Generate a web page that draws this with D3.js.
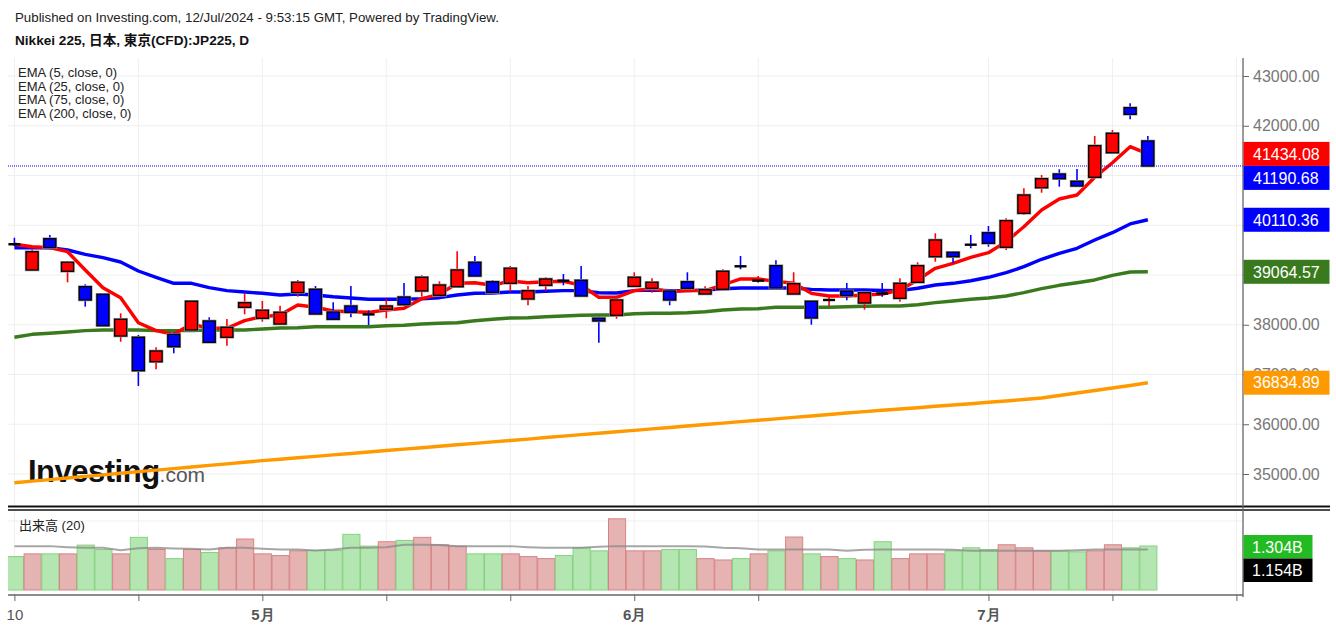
<!DOCTYPE html>
<html><head><meta charset="utf-8">
<script src="https://cdn.jsdelivr.net/npm/d3@7"></script>
<style>
html,body{margin:0;padding:0;background:#fff;}
svg{display:block;font-family:Arial,"Liberation Sans","Noto Sans CJK JP",sans-serif;}
</style></head>
<body>
<svg id="chart" width="1336" height="629"></svg>
<script>
// ---------- DATA ----------
const dates = ["Apr 10","Apr 11","Apr 12","Apr 15","Apr 16","Apr 17","Apr 18","Apr 19","Apr 22","Apr 23","Apr 24","Apr 25","Apr 26","Apr 30",
"May 1","May 2","May 7","May 8","May 9","May 10","May 13","May 14","May 15","May 16","May 17","May 20","May 21","May 22","May 23","May 24","May 27","May 28","May 29","May 30","May 31",
"Jun 3","Jun 4","Jun 5","Jun 6","Jun 7","Jun 10","Jun 11","Jun 12","Jun 13","Jun 14","Jun 17","Jun 18","Jun 19","Jun 20","Jun 21","Jun 24","Jun 25","Jun 26","Jun 27","Jun 28",
"Jul 1","Jul 2","Jul 3","Jul 4","Jul 5","Jul 8","Jul 9","Jul 10","Jul 11","Jul 12"];
const open  = [39623,39101,39730,39075,38765,38612,37774,37748,37257,37808,37895,38076,37748,38351,38130,38015,38644,38713,38256,38377,38210,38311,38558,38679,38592,38765,39255,38865,38833,38518,38793,38888,38894,38130,38190,38773,38733,38679,38865,38618,38713,39177,38884,39187,38618,38472,38496,38679,38437,38630,38532,38853,39368,39456,39611,39850,39557,40240,40755,41030,40884,40964,41458,42363,41694];
const high  = [39750,39517,39804,39268,38813,38632,38230,37794,37547,37848,38472,38150,38116,38632,38478,38383,38900,38779,38451,38779,38291,38512,38839,38994,38873,39477,39382,38900,39181,38779,38954,39020,39181,38162,38498,39054,38934,38699,39054,38773,39115,39382,38980,39296,39054,38472,38552,38839,38644,38839,38934,39255,39838,39483,39804,39985,40140,40743,41010,41125,41131,41794,41915,42451,41794];
const low   = [39583,39101,39523,38853,38363,37981,37659,36769,37105,37426,37895,37647,37579,38210,38061,38015,38564,38216,38096,38150,37995,38130,38377,38564,38592,38765,38980,38652,38664,38391,38685,38793,38578,37639,38122,38773,38644,38391,38733,38618,38713,39115,38845,38739,38618,38001,38377,38492,38303,38564,38464,38853,39268,39235,39537,39569,39503,40206,40654,40775,40789,40964,41458,42130,41191];
const close = [39613,39468,39549,39255,38498,37981,38110,37077,37473,37559,38472,37647,37949,38443,38291,38250,38853,38216,38110,38250,38206,38377,38403,38954,38799,39101,38980,38652,39135,38685,38920,38884,38578,38076,38498,38954,38853,38498,38733,38705,39075,39173,38888,38739,38825,38136,38500,38584,38644,38626,38833,39187,39704,39368,39607,39637,40092,40608,40936,40936,40789,41599,41848,42230,41190.68];

const ema5   = [39617,39569,39549,39468,39101,38745,38544,38041,37881,37808,38015,37929,37929,38082,38162,38196,38397,38351,38276,38262,38250,38297,38331,38524,38612,38833,38845,38793,38879,38845,38865,38873,38799,38552,38552,38685,38725,38664,38685,38685,38799,38920,38920,38873,38833,38632,38578,38578,38598,38618,38699,38900,39135,39235,39356,39448,39670,39971,40307,40528,40608,40964,41257,41579,41434.08];
const ema25  = [39549,39549,39549,39503,39416,39348,39261,39080,38954,38833,38833,38745,38685,38658,38632,38598,38618,38598,38564,38538,38512,38512,38512,38524,38544,38598,38632,38638,38658,38658,38672,38685,38685,38644,38638,38685,38699,38685,38685,38699,38725,38739,38739,38739,38739,38712,38699,38699,38699,38689,38685,38733,38799,38833,38885,38954,39046,39167,39316,39436,39537,39704,39851,40026,40110.36];
const ema75  = [37748,37808,37828,37854,37881,37895,37895,37895,37881,37881,37881,37895,37895,37895,37915,37935,37941,37961,37961,37961,37961,37981,37989,38015,38029,38041,38081,38110,38136,38142,38162,38176,38190,38196,38196,38222,38230,38230,38242,38262,38297,38317,38323,38351,38351,38351,38351,38363,38371,38377,38377,38403,38444,38478,38512,38538,38578,38645,38725,38793,38845,38900,38994,39060,39064.57];
const ema200 = [34825,34857,34888,34920,34952,34982,35014,35047,35079,35109,35141,35173,35204,35236,35268,35296,35326,35354,35384,35413,35443,35471,35499,35529,35558,35588,35616,35646,35674,35702,35733,35761,35791,35819,35849,35877,35906,35936,35964,35994,36022,36052,36080,36108,36139,36167,36197,36227,36253,36281,36307,36333,36361,36387,36413,36442,36468,36498,36528,36578,36628,36679,36729,36779,36834.89];

const volume = [0.99,1.07,1.07,1.07,1.33,1.20,1.07,1.56,1.20,0.93,1.20,1.11,1.25,1.51,1.07,1.02,1.16,1.17,1.17,1.65,1.30,1.43,1.47,1.56,1.34,1.30,1.07,1.07,1.07,0.99,0.93,1.02,1.25,1.16,2.11,1.16,1.16,1.20,1.20,0.93,0.89,0.93,1.07,1.16,1.57,1.07,0.99,0.93,0.89,1.43,0.93,1.07,1.07,1.16,1.25,1.20,1.34,1.25,1.16,1.16,1.13,1.16,1.34,1.25,1.304];
const volumeSide = [1,0,1,0,1,1,0,1,0,1, 0,1,0,0,0,0,0,1,1,1, 1,0,1,0,0,0,1,1,0,0, 0,1,1,1,0,0,0,1,1,0, 0,1,0,1,0,1,0,1,0,1, 0,0,0,1,1,1,0,0,0,1, 1,0,0,1,1];
const volumeMA = [1.30,1.30,1.30,1.27,1.25,1.25,1.18,1.24,1.25,1.23,1.22,1.20,1.25,1.25,1.22,1.20,1.20,1.17,1.20,1.25,1.25,1.27,1.34,1.34,1.33,1.30,1.30,1.30,1.30,1.27,1.25,1.25,1.25,1.28,1.30,1.30,1.30,1.30,1.30,1.29,1.25,1.24,1.20,1.20,1.20,1.20,1.20,1.16,1.19,1.20,1.20,1.20,1.20,1.19,1.16,1.16,1.16,1.16,1.16,1.16,1.18,1.20,1.20,1.20,1.20];

const xTickIndex  = [0,7,14,21,28,35,42,55,62,69];
const xTickLabels = ["10","","5月","","","6月","","7月","",""];
const priceTicks  = [35000,36000,37000,38000,39000,40000,41000,42000,43000];
const priceTicksLabelled = [35000,36000,37000,38000,42000,43000];
const volTicks    = [0,2];
const legendItems = ["EMA (5, close, 0)","EMA (25, close, 0)","EMA (75, close, 0)","EMA (200, close, 0)"];
const lastVolume = 1.304, lastVolumeMA = 1.154;

// ---------- LAYOUT ----------
const svg = d3.select("#chart");
const L = 8, R = 1243;
const mainTop = 58, mainBottom = 506;
const volTop = 510, volBottom = 595;

const x = d3.scaleLinear().domain([0, 69]).range([14.4, 1236.4]);
const y = d3.scaleLinear().domain([35000, 43000]).range([474, 76]);
const yv = d3.scaleLinear().domain([0, 2]).range([590, 522.5]);

const defs = svg.append("defs");
defs.append("clipPath").attr("id","clipMain").append("rect").attr("x",L).attr("y",mainTop).attr("width",R-L).attr("height",mainBottom-mainTop);
defs.append("clipPath").attr("id","clipVol").append("rect").attr("x",L).attr("y",volTop).attr("width",R-L).attr("height",volBottom-volTop-0.5);
defs.append("clipPath").attr("id","clipVolAxis").append("rect").attr("x",R).attr("y",volTop).attr("width",100).attr("height",82);

// header
svg.append("text").attr("x",15).attr("y",22).attr("font-size",13.3).attr("fill","#222")
  .text("Published on Investing.com, 12/Jul/2024 - 9:53:15 GMT, Powered by TradingView.");
svg.append("text").attr("x",15).attr("y",45).attr("font-size",13.6).attr("font-weight","bold").attr("fill","#111")
  .text("Nikkei 225, 日本, 東京(CFD):JP225, D");

// grid
const grid = svg.append("g");
xTickIndex.forEach(i => {
  grid.append("line").attr("x1",x(i)).attr("x2",x(i)).attr("y1",mainTop).attr("y2",mainBottom).attr("stroke","#efefef");
  grid.append("line").attr("x1",x(i)).attr("x2",x(i)).attr("y1",volTop).attr("y2",volBottom).attr("stroke","#efefef");
});
priceTicks.forEach(p => {
  grid.append("line").attr("x1",L).attr("x2",R).attr("y1",y(p)).attr("y2",y(p)).attr("stroke","#efefef");
});
grid.append("line").attr("x1",L).attr("x2",R).attr("y1",yv(2)-1.5).attr("y2",yv(2)-1.5).attr("stroke","#efefef");

// logo
const logo = svg.append("text").attr("x",28).attr("y",482);
logo.append("tspan").attr("font-size",31).attr("font-weight","bold").attr("fill","#111").attr("letter-spacing","-0.5").text("Investing");
logo.append("tspan").attr("font-size",21).attr("fill","#555").text(".com");

// EMA lines
const main = svg.append("g").attr("clip-path","url(#clipMain)");
const line = arr => d3.line().x((d,i)=>x(i)).y(d=>y(d)).curve(d3.curveLinear)(arr);
[[ema200,"#ff9900"],[ema75,"#3a7a1e"],[ema25,"#0000ff"],[ema5,"#ff0000"]].forEach(([arr,c]) => {
  main.append("path").attr("d",line(arr)).attr("fill","none").attr("stroke",c).attr("stroke-width",3.4).attr("stroke-linejoin","round");
});

// last price dotted line
main.append("line").attr("x1",L).attr("x2",R).attr("y1",y(close[close.length-1])).attr("y2",y(close[close.length-1]))
  .attr("stroke","#0000ff").attr("stroke-dasharray","1,1").attr("stroke-width",1);

// candles
const bw = 12;
const candles = main.append("g");
open.forEach((o,i) => {
  const c = close[i], up = c > o;
  const col = up ? "#ff0000" : "#0000ff";
  const cx = x(i);
  candles.append("line").attr("x1",cx).attr("x2",cx).attr("y1",y(high[i])).attr("y2",y(low[i])).attr("stroke",col).attr("stroke-width",1.6);
  const top = y(Math.max(o,c)), bot = y(Math.min(o,c));
  if (bot - top < 1.5) {
    candles.append("rect").attr("x",cx-bw/2).attr("y",(top+bot)/2-1.2).attr("width",bw).attr("height",2.4).attr("fill","#000");
  } else {
    candles.append("rect").attr("x",cx-bw/2).attr("y",top).attr("width",bw).attr("height",bot-top)
      .attr("fill",col).attr("stroke","#999").attr("stroke-width",2.6);
    candles.append("rect").attr("x",cx-bw/2).attr("y",top).attr("width",bw).attr("height",bot-top)
      .attr("fill",col).attr("stroke","#000").attr("stroke-width",1.3);
  }
});

// legend
legendItems.forEach((t,k) => {
  svg.append("text").attr("x",18).attr("y",77+k*13.7).attr("font-size",13).attr("fill","#222").text(t);
});

// separators
svg.append("line").attr("x1",L).attr("x2",1330).attr("y1",506.6).attr("y2",506.6).attr("stroke","#111").attr("stroke-width",2);
svg.append("line").attr("x1",L).attr("x2",1330).attr("y1",510).attr("y2",510).attr("stroke","#111").attr("stroke-width",1.4);

// volume bars
const vg = svg.append("g").attr("clip-path","url(#clipVol)");
const step = x(1) - x(0);
volume.forEach((v,i) => {
  const g = volumeSide[i] === 1;
  vg.append("rect").attr("x",x(i)-step/2+0.8).attr("y",yv(v)).attr("width",step-0.6).attr("height",yv(0)-yv(v))
    .attr("fill", g ? "#b3e6b0" : "#e6b3b3").attr("stroke", g ? "#85d27f" : "#d88383").attr("stroke-width",1);
});
vg.append("path").attr("d", d3.line().x((d,i)=>x(i)).y(d=>yv(d))(volumeMA))
  .attr("fill","none").attr("stroke","#888").attr("stroke-opacity",0.75).attr("stroke-width",2);
svg.append("text").attr("x",19).attr("y",530).attr("font-size",13).attr("fill","#222").text("出来高 (20)");

// right price axis (labels hidden by the value tags are not drawn)
const ya = svg.append("g").attr("transform",`translate(${R},0)`)
  .call(d3.axisRight(y).tickValues(priceTicks).tickFormat(d => priceTicksLabelled.includes(d) ? d3.format(".2f")(d) : "").tickSize(6).tickPadding(4));
ya.select(".domain").remove();
ya.selectAll("line").attr("stroke","#666");
ya.selectAll("text").attr("font-size",16).attr("fill","#777").attr("font-family","Arial,'Liberation Sans',sans-serif");

// right axis lines
svg.append("line").attr("x1",R).attr("x2",R).attr("y1",mainTop).attr("y2",volBottom+2).attr("stroke","#666").attr("stroke-width",1.3);

// value labels
const tags = [
  {v:ema5[ema5.length-1], c:"#ff0000", yy:y(ema5[ema5.length-1])},
  {v:close[close.length-1], c:"#0000ff", yy:y(ema5[ema5.length-1])+24},
  {v:ema25[ema25.length-1], c:"#0000ff", yy:y(ema25[ema25.length-1])},
  {v:ema75[ema75.length-1], c:"#3a7a1e", yy:y(ema75[ema75.length-1])},
  {v:ema200[ema200.length-1], c:"#ff9900", yy:y(ema200[ema200.length-1])}
];
tags.forEach(t => {
  svg.append("rect").attr("x",R+0.5).attr("y",t.yy-12).attr("width",86).attr("height",24).attr("fill",t.c);
  svg.append("text").attr("x",R+10).attr("y",t.yy).attr("dy","0.36em").attr("font-size",16).attr("fill","#fff").text(d3.format(".2f")(t.v));
});

// volume axis
const va = svg.append("g").attr("transform",`translate(${R},0)`).attr("clip-path","url(#clipVolAxis)")
  .call(d3.axisRight(yv).tickValues(volTicks).tickFormat(d => d===0 ? "0" : d+"B").tickSize(6).tickPadding(4));
va.select(".domain").remove();
va.selectAll("line").attr("stroke","#666");
va.selectAll("text").attr("font-size",16).attr("fill","#777").attr("dy","0.5em");
const vtags = [{t:d3.format(".3f")(lastVolume)+"B", c:"#22bb22", yy:547},{t:d3.format(".3f")(lastVolumeMA)+"B", c:"#000", yy:570.5}];
vtags.forEach(t => {
  svg.append("rect").attr("x",R+0.5).attr("y",t.yy-12).attr("width",69).attr("height",23.5).attr("fill",t.c);
  svg.append("text").attr("x",R+9).attr("y",t.yy).attr("dy","0.36em").attr("font-size",16).attr("fill","#fff").text(t.t);
});

// bottom axis
const xa = svg.append("g").attr("transform",`translate(0,${volBottom})`)
  .call(d3.axisBottom(x).tickValues(xTickIndex).tickFormat((d,i)=>xTickLabels[i]).tickSize(6).tickPadding(8));
xa.select(".domain").remove();
xa.selectAll("line").attr("stroke","#666");
xa.selectAll("text").attr("font-size",15).attr("fill","#555")
  .attr("font-weight",(d,i)=> i===0 ? "normal" : "bold");
svg.append("line").attr("x1",L).attr("x2",R).attr("y1",volBottom).attr("y2",volBottom).attr("stroke","#666").attr("stroke-width",1.3);
</script>
</body></html>
